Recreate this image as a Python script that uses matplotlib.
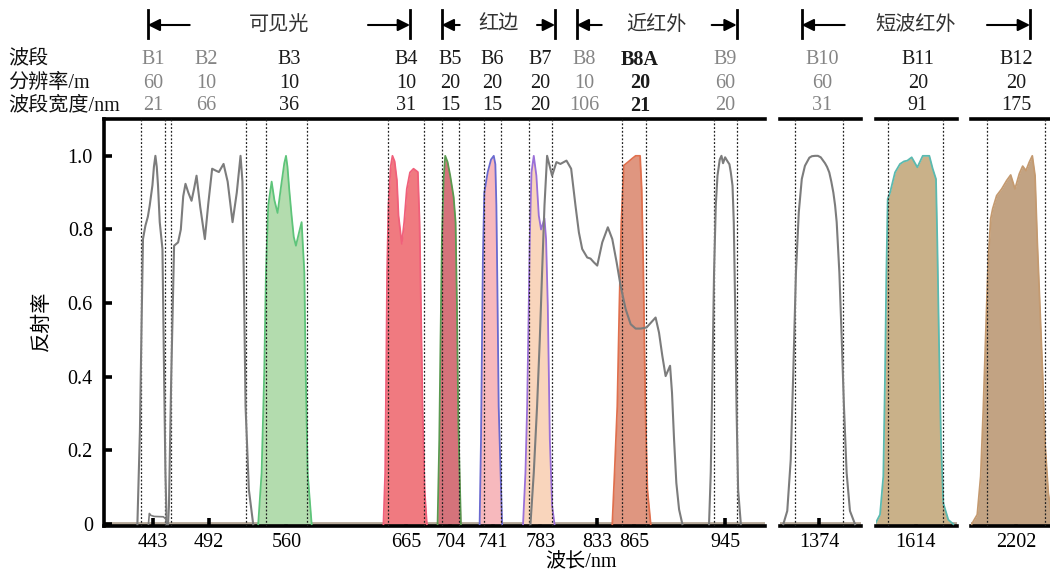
import matplotlib
matplotlib.use("Agg")
import matplotlib.pyplot as plt

plt.rcParams["font.family"] = ["Liberation Serif", "Noto Sans CJK SC"]

# ---- band table (header rows) ----
BANDS = ["B1", "B2", "B3", "B4", "B5", "B6", "B7", "B8", "B8A", "B9", "B10", "B11", "B12"]
CENTER = [443, 492, 560, 665, 704, 741, 783, 833, 865, 945, 1374, 1614, 2202]
RES = [60, 10, 10, 10, 20, 20, 20, 10, 20, 60, 60, 20, 20]
WIDTH = [21, 66, 36, 31, 15, 15, 20, 106, 21, 20, 31, 91, 175]
PANEL = [0, 0, 0, 0, 0, 0, 0, 0, 0, 0, 1, 2, 3]
ROW_LABELS = ["波段", "分辨率/m", "波段宽度/nm"]
REGIONS = ["可见光", "红边", "近红外", "短波红外"]
MAIN_TICKS = [443, 492, 560, 665, 704, 741, 783, 833, 865, 945]

# ---- spectral response curves ----
WL_B1 = [429.3, 431.5, 433.0, 434.2, 436.3, 438.5, 440.1, 442.5, 443.8, 445.1, 446.3, 447.4, 448.9,
         451.3, 452.7, 453.9, 455.0]
R_B1 = [0.0, 0.25, 0.55, 0.774, 0.81, 0.835, 0.865, 0.92, 0.97, 1.0, 0.97, 0.919, 0.82,
        0.747, 0.41, 0.14, 0.0]
WL_B1T = [439.0, 439.8, 441.0, 444.0, 452.0, 454.0, 455.3]
R_B1T = [0.0, 0.029, 0.024, 0.021, 0.02, 0.015, 0.0]
WL_B2 = [456.2, 457.0, 459.0, 461.5, 465.0, 467.4, 469.5, 471.5, 474.0, 476.8, 479.0, 481.2, 484.5,
         488.5, 491.5, 494.9, 498.0, 500.8, 504.9, 508.5, 512.8, 516.5, 519.8, 521.5, 523.0, 524.2, 527.1, 530.9]
R_B2 = [0.0, 0.05, 0.40, 0.756, 0.765, 0.80, 0.89, 0.924, 0.90, 0.878, 0.91, 0.946, 0.86,
        0.774, 0.87, 0.965, 0.96, 0.956, 0.978, 0.93, 0.82, 0.90, 1.0, 0.93, 0.60, 0.32, 0.094, 0.0]
WL_B3 = [535.3, 538.3, 540.6, 542.1, 544.1, 547.1, 549.5, 552.3, 555.5, 558.2, 559.7, 561.0, 562.5,
         564.6, 566.5, 568.4, 571.0, 573.4, 575.8, 577.0, 578.7, 582.2]
R_B3 = [0.0, 0.139, 0.411, 0.683, 0.865, 0.930, 0.88, 0.845, 0.92, 0.98, 1.0, 0.97, 0.91,
        0.838, 0.78, 0.756, 0.79, 0.82, 0.683, 0.411, 0.139, 0.0]
WL_B4 = [645.2, 646.7, 647.6, 648.4, 649.6, 651.5, 653.1, 655.0, 657.0, 658.4, 661.3, 663.4, 665.7,
         668.5, 671.6, 675.4, 676.9, 678.1, 679.5, 681.3, 683.3]
R_B4 = [0.0, 0.139, 0.411, 0.683, 0.865, 0.97, 1.0, 0.985, 0.934, 0.838, 0.761, 0.82, 0.910,
        0.955, 0.965, 0.956, 0.82, 0.593, 0.32, 0.094, 0.0]
WL_B5 = [692.7, 694.2, 695.3, 696.5, 698.0, 699.4, 701.5, 703.8, 706.8, 708.5, 709.7, 710.9, 713.2]
R_B5 = [0.0, 0.23, 0.502, 0.774, 0.937, 1.0, 0.983, 0.946, 0.888, 0.82, 0.593, 0.275, 0.0]
WL_B6 = [729.6, 730.8, 731.7, 732.5, 733.7, 736.7, 739.6, 742.0, 743.4, 744.3, 745.2, 746.3, 749.3]
R_B6 = [0.0, 0.23, 0.502, 0.729, 0.90, 0.956, 0.99, 1.0, 0.977, 0.865, 0.638, 0.32, 0.0]
WL_B7 = [767.7, 769.8, 771.3, 772.7, 773.6, 775.1, 777.1, 779.4, 781.5, 783.5, 786.5, 787.9, 789.4,
         791.2, 793.2, 795.3]
R_B7 = [0.0, 0.139, 0.32, 0.593, 0.774, 0.955, 1.0, 0.946, 0.838, 0.80, 0.83, 0.774, 0.593,
        0.23, 0.05, 0.0]
WL_B8 = [774.2, 777.1, 780.0, 782.4, 784.4, 786.5, 788.8, 793.2, 797.0, 800.5, 805.8, 809.9, 813.7,
         816.7, 819.6, 824.0, 826.9, 829.8, 832.8, 837.2, 842.1, 846.0, 849.8, 853.3, 857.7, 862.1,
         866.5, 870.9, 876.1, 880.2, 884.0, 887.0, 889.9, 892.8, 896.7, 898.4, 900.2, 902.2, 904.6, 907.5]
R_B8 = [0.0, 0.139, 0.32, 0.502, 0.683, 0.865, 1.0, 0.946, 0.983, 0.978, 0.987, 0.965, 0.865,
        0.792, 0.747, 0.724, 0.721, 0.711, 0.702, 0.765, 0.806, 0.774, 0.711, 0.647, 0.584, 0.543,
        0.531, 0.531, 0.534, 0.548, 0.561, 0.520, 0.457, 0.402, 0.430, 0.357, 0.23, 0.112, 0.04, 0.0]
WL_B8A = [846.0, 848.0, 850.4, 852.2, 853.9, 856.2, 859.8, 863.6, 866.5, 870.4, 871.8, 873.3, 875.0,
          876.8, 879.7]
R_B8A = [0.0, 0.139, 0.32, 0.593, 0.82, 0.974, 0.983, 0.993, 1.0, 1.0, 0.91, 0.683, 0.32, 0.094, 0.0]
WL_B9 = [930.9, 932.4, 933.9, 935.3, 936.8, 938.3, 940.3, 941.8, 943.2, 945.0, 947.1, 948.8, 950.0,
         951.5, 952.6, 953.8, 955.0, 956.4, 958.8]
R_B9 = [0.0, 0.139, 0.411, 0.683, 0.865, 0.946, 0.99, 1.0, 0.98, 0.996, 0.985, 0.977, 0.955,
        0.919, 0.82, 0.593, 0.32, 0.094, 0.0]
WL_B10 = [1351.4, 1353.9, 1356.1, 1357.7, 1359.4, 1361.2, 1363.1, 1365.1, 1367.9, 1369.5, 1371.5,
          1373.3, 1375.1, 1377.8, 1379.1, 1380.5, 1381.8, 1383.1, 1384.2, 1385.2, 1386.9, 1388.4,
          1389.8, 1391.5, 1393.6, 1396.8]
R_B10 = [0.0, 0.036, 0.175, 0.411, 0.683, 0.847, 0.937, 0.973, 0.995, 0.999, 1.0,
         1.0, 0.996, 0.98, 0.97, 0.955, 0.93, 0.90, 0.865, 0.82, 0.683, 0.502,
         0.32, 0.139, 0.036, 0.0]
WL_B11 = [1546.2, 1554.5, 1560.0, 1562.8, 1565.0, 1567.3, 1571.2, 1579.5, 1587.8, 1594.5, 1600.0,
          1607.3, 1616.7, 1625.7, 1636.7, 1642.3, 1647.8, 1650.0, 1652.8, 1656.2, 1660.0, 1668.3, 1676.7]
R_B11 = [0.0, 0.026, 0.13, 0.40, 0.674, 0.883, 0.90, 0.955, 0.978, 0.985, 0.987,
         0.996, 0.969, 1.0, 1.0, 0.965, 0.937, 0.765, 0.493, 0.22, 0.057, 0.012, 0.0]
WL_B12 = [2069.4, 2086.1, 2096.3, 2104.1, 2112.2, 2119.1, 2126.3, 2132.2, 2144.2, 2159.2, 2174.2,
          2186.1, 2199.0, 2211.9, 2222.0, 2231.9, 2241.9, 2250.8, 2259.0, 2265.8, 2273.9, 2281.9,
          2288.8, 2298.7, 2308.9]
R_B12 = [0.0, 0.026, 0.13, 0.312, 0.538, 0.72, 0.829, 0.856, 0.892, 0.91, 0.933,
         0.948, 0.91, 0.951, 0.972, 0.96, 0.983, 1.0, 0.946, 0.765, 0.584, 0.402,
         0.22, 0.085, 0.02]

GRAY = "#7c7c7c"
FILLED = {  # band -> (fill, edge)
    "B3": ("#b3dcae", "#5ec47a"),
    "B4": ("#f07a80", "#f0607a"),
    "B5": ("#d5737b", "#5a9a50"),
    "B6": ("#f7b9bd", "#6a6ad0"),
    "B7": ("#f9d5bc", "#9a70d8"),
    "B8A": ("#df9680", "#e0704e"),
    "B11": ("#c9b189", "#5abab0"),
    "B12": ("#c2a383", "#c49a70"),
}
CURVES = {
    "B1": (WL_B1, R_B1), "B2": (WL_B2, R_B2), "B3": (WL_B3, R_B3), "B4": (WL_B4, R_B4),
    "B5": (WL_B5, R_B5), "B6": (WL_B6, R_B6), "B7": (WL_B7, R_B7), "B8": (WL_B8, R_B8),
    "B8A": (WL_B8A, R_B8A), "B9": (WL_B9, R_B9), "B10": (WL_B10, R_B10),
    "B11": (WL_B11, R_B11), "B12": (WL_B12, R_B12),
}

W, H = 1050, 574
fig = plt.figure(figsize=(W / 100, H / 100), dpi=100)

# panel pixel extents (left, right) and wavelength limits
PANEL_PX = [(104, 765), (780, 861), (876, 957), (971, 1052)]
PANEL_XLIM = [(400, 980), (1349.3, 1400.6), (1547.8, 1682.8), (2067.3, 2309.8)]
TOP, BOT = 119, 526

axes = []
for (l, r), xl in zip(PANEL_PX, PANEL_XLIM):
    ax = fig.add_axes([l / W, (H - BOT) / H, (r - l) / W, (BOT - TOP) / H])
    ax.set_xlim(*xl)
    ax.set_ylim(-0.005, 1.1)
    for s in ["top", "bottom", "left", "right"]:
        ax.spines[s].set_linewidth(2.6)
        ax.spines[s].set_color("black")
    ax.spines["right"].set_visible(False)
    if axes:
        ax.spines["left"].set_visible(False)
        ax.tick_params(axis="y", left=False, labelleft=False)
    ax.axhline(0.004, color="#b5a898", lw=2, zorder=1)
    ax.tick_params(axis="x", direction="in", length=6, width=2.6, labelsize=14.5, pad=5)
    axes.append(ax)

main = axes[0]
main.set_yticks([0, 0.2, 0.4, 0.6, 0.8, 1.0])
main.set_yticklabels(["0", "0.2", "0.4", "0.6", "0.8", "1.0"])
main.tick_params(axis="y", direction="in", length=6, width=2.6, labelsize=14.5, pad=8)
main.set_xticks(MAIN_TICKS)
for i, b in enumerate(BANDS):
    if PANEL[i] > 0:
        axes[PANEL[i]].set_xticks([CENTER[i]])

# curves
for i, b in enumerate(BANDS):
    ax = axes[PANEL[i]]
    wl, rr = CURVES[b]
    if b in FILLED:
        fc, ec = FILLED[b]
        ax.fill_between(wl, rr, 0, color=fc, lw=0, zorder=2)
        ax.plot(wl, rr, color=ec, lw=1.3, zorder=3, solid_joinstyle="round")
    if b != "B8":
        for edge in (CENTER[i] - WIDTH[i] / 2, CENTER[i] + WIDTH[i] / 2):
            ax.axvline(edge, color="#222222", lw=0.9, ls=(0, (1.5, 1.5)), zorder=4)
main.plot(WL_B1T, R_B1T, color=GRAY, lw=1.2, zorder=5)
for i, b in enumerate(BANDS):
    if b not in FILLED:
        wl, rr = CURVES[b]
        axes[PANEL[i]].plot(wl, rr, color=GRAY, lw=1.5, zorder=5, solid_joinstyle="round")

# overlay for header text in pixel coordinates
ov = fig.add_axes([0, 0, 1, 1])
ov.set_xlim(0, W)
ov.set_ylim(H, 0)
ov.axis("off")

FS = 14.5
row_y = [60, 83, 106]
for lab, y in zip(ROW_LABELS, row_y):
    ov.text(8, y, lab, fontsize=FS, ha="left", va="center", color="#111111")

label_dx = {"B2": -3, "B3": 3, "B8": -13, "B8A": 6, "B10": 3, "B11": 2}
gray_bands = {"B1", "B2", "B8", "B9", "B10"}
for i, b in enumerate(BANDS):
    ax = axes[PANEL[i]]
    x = ax.transData.transform((CENTER[i], 0))[0] * W / fig.bbox.width + label_dx.get(b, 0)
    col = "#858585" if b in gray_bands else "#1a1a1a"
    fw = "bold" if b == "B8A" else "normal"
    for val, y in zip([b, RES[i], WIDTH[i]], row_y):
        ov.text(x, y, str(val), fontsize=FS, ha="center", va="center", color=col, fontweight=fw)

# region brackets: bar positions (px) and arrow lengths (px)
bars = [(147.7, 410), (441.7, 555), (576.7, 736.7), (801.7, 1030)]
alen = [42, 18, 25, 43]
for name, (x0, x1), L in zip(REGIONS, bars, alen):
    for xb in (x0, x1):
        ov.plot([xb, xb], [10, 38], color="black", lw=2)
    ov.annotate("", xy=(x0, 25), xytext=(x0 + L, 25),
                arrowprops=dict(arrowstyle="-|>", color="black", lw=1.5,
                                mutation_scale=18, shrinkA=0, shrinkB=0))
    ov.annotate("", xy=(x1, 25), xytext=(x1 - L, 25),
                arrowprops=dict(arrowstyle="-|>", color="black", lw=1.5,
                                mutation_scale=18, shrinkA=0, shrinkB=0))
    ov.text((x0 + x1) / 2, 25, name, fontsize=FS, ha="center", va="center", color="#333333")

ov.text(581, 563, "波长/nm", fontsize=FS, ha="center", va="center")
ov.text(42, 321, "反射率", fontsize=FS, ha="center", va="center", rotation=90)

fig.savefig("out.png", dpi=100)
